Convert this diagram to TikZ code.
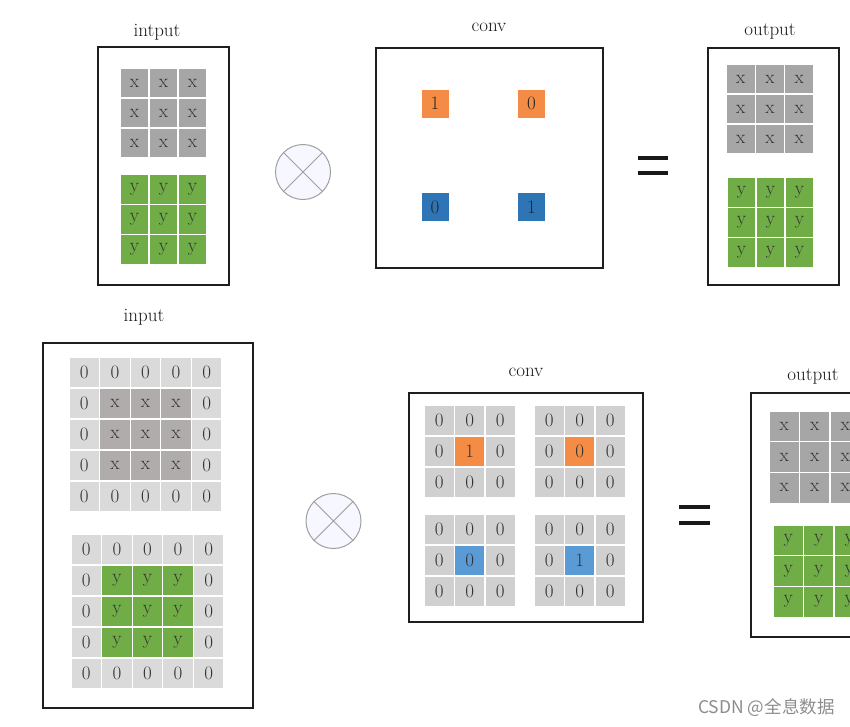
\documentclass[tikz,border=0pt]{standalone}
\usepackage{fontspec}
\newfontfamily\cjkfont{Noto Sans CJK SC}
\definecolor{xgrey}{HTML}{A6A6A6}
\definecolor{ygreen}{HTML}{70AD47}
\definecolor{padgrey}{HTML}{DADADA}
\definecolor{innergrey}{HTML}{B0ACAC}
\definecolor{convgrey}{HTML}{D0D0D0}
\definecolor{korange}{HTML}{F58C46}
\definecolor{kblue}{HTML}{2E75B6}
\definecolor{kbluelight}{HTML}{5B9BD5}
\definecolor{framec}{HTML}{1E1E1E}
\newcommand\mkgrid[7]{%
  \foreach \r in {0,1,2}{\foreach \c in {0,1,2}{%
    \node[cell, fill=#6, minimum width=#4pt, minimum height=#5pt] (#1-\r-\c) at ({#2+#4*(\c+0.5)},{#3+#5*(\r+0.5)}) {#7};
  }}}
\newcommand\convgrid[5]{%
  \foreach \r in {0,1,2}{\foreach \c in {0,1,2}{%
    \ifnum\r\c=11
      \node[cell, fill=#4, minimum width=30.5pt, minimum height=31pt] (#1-\r-\c) at ({#2+30.5*(\c+0.5)},{#3+31*(\r+0.5)}) {#5};
    \else
      \node[cell, fill=convgrey, minimum width=30.5pt, minimum height=31pt] (#1-\r-\c) at ({#2+30.5*(\c+0.5)},{#3+31*(\r+0.5)}) {0};
    \fi
  }}}
\newcommand\padgrid[5]{%
  \foreach \r in {0,...,4}{\foreach \c in {0,...,4}{%
    \pgfmathtruncatemacro\isin{and(and(\r>0,\r<4),and(\c>0,\c<4))}
    \ifnum\isin=1
      \node[cell, fill=#4, minimum width=30.6pt, minimum height=31pt] (#1-\r-\c) at ({#2+30.6*(\c+0.5)},{#3+31*(\r+0.5)}) {#5};
    \else
      \node[cell, fill=padgrey, minimum width=30.6pt, minimum height=31pt] (#1-\r-\c) at ({#2+30.6*(\c+0.5)},{#3+31*(\r+0.5)}) {0};
    \fi
  }}}
\begin{document}
\begin{tikzpicture}[x=1pt,y=-1pt,
  frame/.style={draw=framec, line width=2.4pt, inner sep=0pt},
  lbl/.style={font=\fontsize{19}{20}\selectfont, text=black!90, inner sep=0pt},
  cell/.style={draw=white, line width=1.2pt, inner sep=0pt, font=\fontsize{19}{19}\selectfont, text=black!80},
  otimes/.style={circle, draw=gray!75, fill=blue!3, line width=1pt, minimum size=55pt, inner sep=0pt},
  eqbar/.style={line width=3.6pt, draw=black!90},
  kern/.style={draw=white, line width=0.5pt, inner sep=0pt, minimum width=28pt, minimum height=29pt, font=\fontsize{19}{19}\selectfont, text=black!85}]
\path[use as bounding box] (0,0) rectangle (850,726);
\clip (0,0) rectangle (850,726);

% ---------- top row ----------
\node[frame, minimum width=131pt, minimum height=238pt] (inA) at (163.5,166) {};
\node[lbl] (inAl) at (157,32) {intput};
\mkgrid{ax}{120}{68}{29}{30}{xgrey}{x}
\mkgrid{ay}{120}{174}{29}{30.3}{ygreen}{y}

\node[otimes] (ot1) at (303,172) {};
\draw[gray!75, line width=0.8pt] (ot1.north east) -- (ot1.south west) (ot1.north west) -- (ot1.south east);

\node[frame, minimum width=227pt, minimum height=220pt] (cvA) at (489.5,158) {};
\node[lbl] (cvAl) at (489,27) {conv};
\node[kern, fill=korange] (k1) at (435,103.5) {1};
\node[kern, fill=korange] (k2) at (531.5,103.5) {0};
\node[kern, fill=kblue] (k3) at (435,207) {0};
\node[kern, fill=kblue] (k4) at (531.5,207) {1};

\draw[eqbar] (638,158) -- (668,158);
\draw[eqbar] (638,173) -- (668,173);

\node[frame, minimum width=131pt, minimum height=237pt] (outA) at (773.5,166.5) {};
\node[lbl] (outAl) at (770,32) {output};
\mkgrid{bx}{726}{64}{29.3}{30}{xgrey}{x}
\mkgrid{by}{727}{177}{29}{30.3}{ygreen}{y}

% ---------- bottom row ----------
\node[frame, minimum width=210pt, minimum height=365pt] (inB) at (148,525.5) {};
\node[lbl] (inBl) at (144,317) {input};
\padgrid{px}{69}{357}{innergrey}{x}
\padgrid{py}{71}{534}{ygreen}{y}

\node[otimes] (ot2) at (333.5,521) {};
\draw[gray!75, line width=0.8pt] (ot2.north east) -- (ot2.south west) (ot2.north west) -- (ot2.south east);

\node[frame, minimum width=234pt, minimum height=229pt] (cvB) at (526,507.5) {};
\node[lbl] (cvBl) at (526,372) {conv};
\convgrid{c1}{424}{405}{korange}{1}
\convgrid{c2}{534}{405}{korange}{0}
\convgrid{c3}{424}{514}{kbluelight}{0}
\convgrid{c4}{534}{514}{kbluelight}{1}

\draw[eqbar] (679,507) -- (710,507);
\draw[eqbar] (679,523) -- (710,523);

\node[frame, minimum width=130pt, minimum height=244pt] (outB) at (816,515) {};
\node[lbl] (outBl) at (813,377) {output};
\mkgrid{qx}{769}{411}{30.5}{30.7}{xgrey}{x}
\mkgrid{qy}{773}{525}{30.5}{30.7}{ygreen}{y}

\node[font=\cjkfont\fontsize{17.5}{17.5}\selectfont, text=black!45, anchor=west, inner sep=0pt] (wm) at (698,708) {CSDN @全息数据};
\end{tikzpicture}
\end{document}
